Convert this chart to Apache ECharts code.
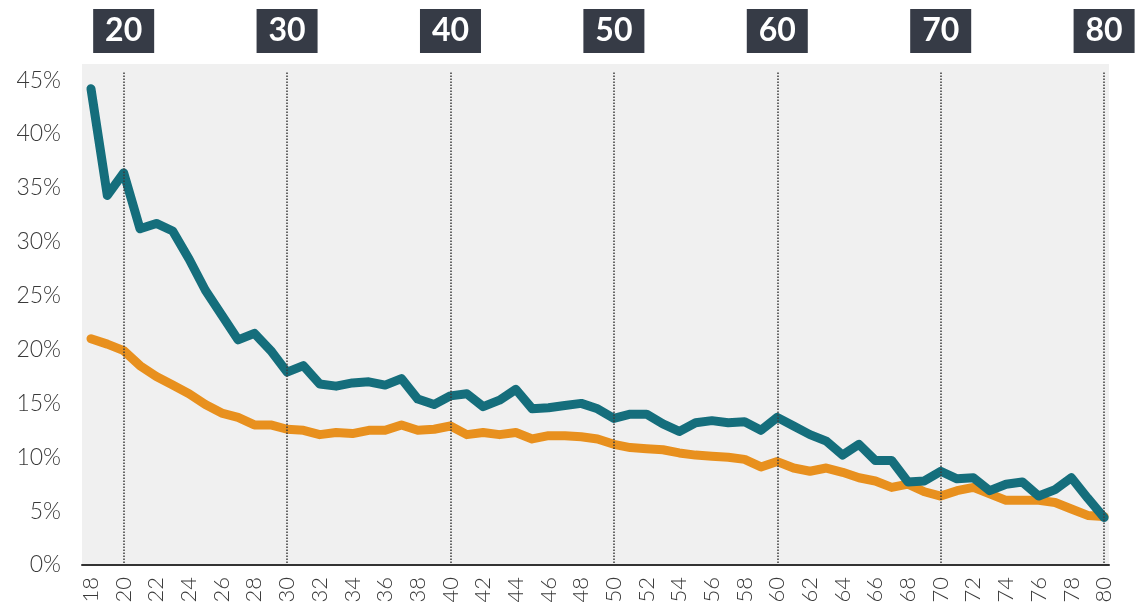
<!DOCTYPE html>
<html>
<head>
<meta charset="utf-8">
<script src="https://cdn.jsdelivr.net/npm/echarts@6/dist/echarts.min.js"></script>
<style>
html,body{margin:0;padding:0;background:#fff;}
#c{width:1141px;height:608px;}
</style>
</head>
<body>
<div id="c"></div>
<script>
const ages = [18,19,20,21,22,23,24,25,26,27,28,29,30,31,32,33,34,35,36,37,38,39,40,41,42,43,44,45,46,47,48,49,50,51,52,53,54,55,56,57,58,59,60,61,62,63,64,65,66,67,68,69,70,71,72,73,74,75,76,77,78,79,80];
const tealValues = [44.2,34.3,36.4,31.2,31.7,31.0,28.4,25.5,23.2,20.9,21.5,19.9,17.9,18.5,16.8,16.6,16.9,17.0,16.7,17.3,15.4,14.9,15.7,15.9,14.7,15.3,16.3,14.5,14.6,14.8,15.0,14.5,13.6,14.0,14.0,13.1,12.4,13.2,13.4,13.2,13.3,12.5,13.7,12.9,12.1,11.5,10.2,11.2,9.7,9.7,7.7,7.8,8.7,8.0,8.1,6.9,7.5,7.7,6.4,7.0,8.1,6.2,4.4];
const orangeValues = [21.0,20.5,19.9,18.5,17.5,16.7,15.9,14.9,14.1,13.7,13.0,13.0,12.6,12.5,12.1,12.3,12.2,12.5,12.5,13.0,12.5,12.6,12.9,12.1,12.3,12.1,12.3,11.7,12.0,12.0,11.9,11.7,11.2,10.9,10.8,10.7,10.4,10.2,10.1,10.0,9.8,9.1,9.6,9.0,8.7,9.0,8.6,8.1,7.8,7.2,7.5,6.8,6.4,6.9,7.2,6.6,6.0,6.0,6.0,5.8,5.2,4.6,4.5];
const xTickLabels = [18,20,22,24,26,28,30,32,34,36,38,40,42,44,46,48,50,52,54,56,58,60,62,64,66,68,70,72,74,76,78,80];
const yTickLabels = [0,5,10,15,20,25,30,35,40,45];
const decades = [20,30,40,50,60,70,80];

const chart = echarts.init(document.getElementById('c'), null, {renderer:'canvas'});

const markLineData = decades.map(d => [{coord:[d, 45.7]}, {coord:[d, 0]}]);

chart.setOption({
  animation: false,
  backgroundColor: '#ffffff',
  grid: {left: 82, right: 32, top: 64, bottom: 43, show: true, backgroundColor: '#f0f0f0', borderWidth: 0},
  xAxis: {
    type: 'value', min: 17.45, max: 80.3,
    axisLine: {show: true, onZero: false, lineStyle: {color: '#333', width: 2}},
    axisTick: {show: false},
    splitLine: {show: false},
    axisLabel: {customValues: xTickLabels, rotate: 90, margin: 12, fontFamily: 'Lato', fontWeight: 300, fontSize: 22, color: '#3a3a3a'}
  },
  yAxis: {
    type: 'value', min: 0, max: 46.5,
    axisLine: {show: false}, axisTick: {show: false}, splitLine: {show: false},
    axisLabel: {customValues: yTickLabels, formatter: '{value}%', margin: 21, fontFamily: 'Lato', fontWeight: 300, fontSize: 23, color: '#3a3a3a'}
  },
  series: [
    {
      type: 'line', name: 'orange', data: ages.map((a,i)=>[a, orangeValues[i]]),
      symbol: 'none', lineStyle: {color: '#e8901e', width: 9, cap: 'round', join: 'round'},
      markLine: {silent: true, symbol: 'none', label: {show: false},
        lineStyle: {color: '#3a3a3a', width: 1.5, type: 'dotted'}, data: markLineData}
    },
    {
      type: 'line', name: 'teal', data: ages.map((a,i)=>[a, tealValues[i]]),
      symbol: 'none', lineStyle: {color: '#156e7c', width: 9, cap: 'round', join: 'round'}
    }
  ]
});

const boxes = decades.map(d => {
  const x = chart.convertToPixel({xAxisIndex: 0}, d);
  return {
    type: 'group', x: x, y: 9,
    children: [
      {type: 'rect', shape: {x: -30.5, y: 0, width: 61, height: 44}, style: {fill: '#363b46'}},
      {type: 'text', x: 0, y: 22, style: {text: String(d), fill: '#ffffff', font: 'bold 32px Lato', align: 'center', verticalAlign: 'middle'}}
    ]
  };
});
chart.setOption({graphic: boxes});
</script>
</body>
</html>
